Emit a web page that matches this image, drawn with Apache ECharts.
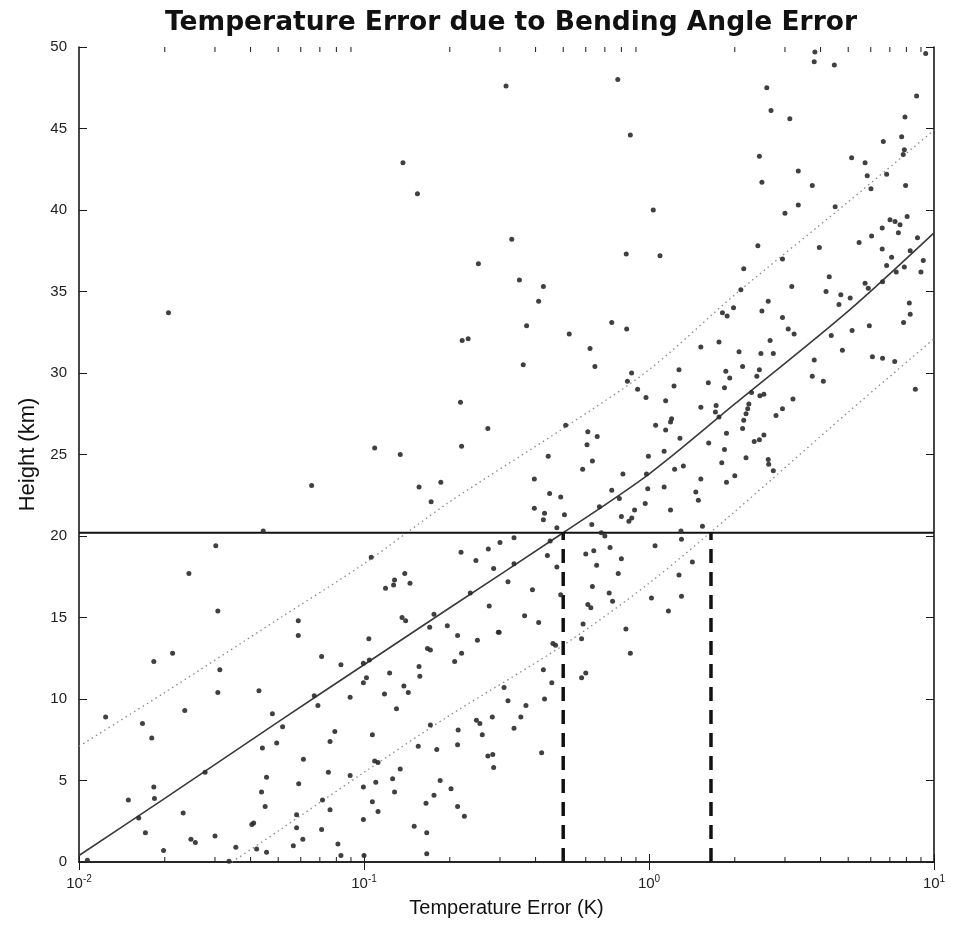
<!DOCTYPE html>
<html>
<head>
<meta charset="utf-8">
<script src="https://cdn.jsdelivr.net/npm/echarts@6/dist/echarts.min.js"></script>
<style>html,body{margin:0;padding:0;background:#fff}#chart{width:955px;height:939px}</style>
</head>
<body>
<div id="chart"></div>
<script>
// ---- data ----
const titleText = 'Temperature Error due to Bending Angle Error';
const xAxisName = 'Temperature Error (K)';
const yAxisName = 'Height (km)';
const xMin = 0.01, xMax = 10;
const yMin = 0, yMax = 50, yStep = 5;

const pointTempError = [
0.0206,0.315,0.777,0.86,0.137,0.154,0.330,0.832,0.252,0.351,0.426,0.410,0.74,
3.82,3.80,4.47,9.35,2.59,2.68,3.12,8.69,7.91,6.64,7.7,7.87,7.8,5.14,5.73,6.82,5.83,6.01,7.95,2.44,3.34,2.49,3.74,1.035,1.093,3.0,3.34,4.5,7.01,7.3,7.6,6.58,8.05,7.5,6.04,8.75,5.46,3.96,6.58,2.41,2.94,2.15,7.1,9.17,6.82,7.37,7.87,9.0,8.25,4.29,5.73,5.88,6.6,3.17,2.1,4.18,4.71,5.08,4.64,2.62,1.98,1.81,1.88,2.49,2.94,8.19,8.25,
7.82,5.93,5.16,4.36,3.08,3.23,2.66,2.73,2.47,2.07,1.76,1.52,4.77,6.08,6.6,7.28,8.6,3.8,3.74,4.09,2.13,2.44,2.39,1.86,1.92,1.615,1.84,1.274,1.224,0.976,1.144,2.29,2.45,2.53,3.2,1.52,1.72,1.71,1.76,2.24,2.22,2.19,2.15,2.94,2.79,1.2,1.19,1.055,1.144,2.13,1.87,2.53,2.44,2.34,1.284,1.62,1.84,0.995,1.13,2.19,1.8,2.62,2.63,2.73,1.23,1.32,0.98,2.0,1.52,1.87,0.99,1.13,1.46,1.49,0.97,1.19,1.54,1.295,1.3,1.05,1.42,1.274,
0.372,0.525,0.835,0.221,0.232,0.621,0.362,0.646,0.869,0.84,0.912,0.218,0.272,0.51,0.61,0.658,0.606,0.109,0.134,0.22,0.443,0.633,0.585,0.396,0.81,0.156,0.186,0.172,0.448,0.49,0.74,0.787,0.67,0.396,0.43,0.426,0.505,0.8,0.89,0.87,0.85,0.475,0.63,0.68,0.7,0.106,0.219,0.273,0.3,0.336,0.247,0.285,0.336,0.44,0.45,0.60,0.64,0.73,0.8,0.655,0.78,0.475,0.139,0.128,0.127,0.145,0.119,0.32,0.633,
0.0655,0.0443,0.0302,0.0243,
0.0307,0.0588,0.0588,0.0213,0.0183,0.0312,0.071,0.083,0.0995,0.0995,0.0307,0.0428,0.0669,0.0689,0.0894,0.0124,0.0235,0.0167,0.018,0.0477,0.0518,0.044,0.0494,0.079,0.076,0.0613,0.075,0.0894,0.0995,0.0995,0.0455,0.0437,0.045,0.059,0.0715,0.076,0.058,0.058,0.071,0.061,0.0565,0.081,0.083,0.0183,0.0184,0.0149,0.0162,0.0171,0.0198,0.0107,0.0277,0.0232,0.0247,0.0256,0.030,0.0336,0.0355,0.0404,0.041,0.042,0.0455,
0.39,0.49,0.236,0.725,0.745,0.61,0.625,0.275,0.366,0.41,0.587,0.83,0.136,0.14,0.176,0.17,0.196,0.104,0.213,0.25,0.296,0.298,0.46,0.47,0.58,0.86,0.167,0.171,0.1044,0.208,0.22,0.156,0.157,0.123,0.102,0.426,0.456,0.58,0.6,0.138,0.143,0.118,0.31,0.32,0.43,0.37,0.13,0.355,0.282,0.248,0.255,0.171,0.336,0.214,0.26,0.107,0.213,0.155,0.18,0.42,0.272,0.283,0.285,0.109,0.112,0.134,0.126,0.11,0.185,0.202,0.128,0.176,0.107,0.112,0.165,0.213,0.225,0.15,0.166,0.166,0.1,
1.02,1.17,1.3
];
const pointHeight = [
33.7,47.6,48.0,44.6,42.9,41.0,38.2,37.3,36.7,35.7,35.3,34.4,33.1,
49.7,49.1,48.9,49.6,47.5,46.1,45.6,47.0,45.7,44.2,44.5,43.7,43.4,43.2,42.9,42.2,42.1,41.3,41.5,43.3,42.4,41.7,41.5,40.0,37.2,39.8,40.3,40.2,39.4,39.3,39.1,38.9,39.6,38.6,38.4,38.3,38.0,37.7,37.6,37.8,37.0,36.4,37.1,36.9,36.6,36.2,36.5,36.2,37.5,35.9,35.5,35.2,35.6,35.3,35.1,35.0,34.8,34.6,34.2,34.4,34.0,33.7,33.5,33.8,33.4,34.3,33.6,
33.1,32.9,32.6,32.3,32.7,32.4,32.0,31.2,31.2,31.3,31.9,31.6,31.4,31.0,30.9,30.7,29.0,30.8,29.8,29.5,30.4,30.2,29.8,30.1,29.7,29.4,29.1,30.2,29.2,28.5,28.3,28.8,28.6,28.7,28.4,27.9,28.0,27.6,27.3,28.1,27.8,27.5,27.1,27.8,27.4,27.2,27.0,26.8,26.5,26.6,26.3,26.2,25.9,25.8,26.0,25.7,25.3,24.9,25.2,24.8,24.5,24.7,24.4,24.0,24.1,24.3,23.8,23.7,23.5,23.3,22.9,23.0,22.7,22.2,22.0,21.6,20.6,20.3,19.8,19.4,18.4,17.6,
32.9,32.4,32.7,32.0,32.1,31.5,30.5,30.4,30.0,29.5,29.0,28.2,26.6,26.8,26.4,26.1,25.6,25.4,25.0,25.5,24.9,24.6,24.1,23.5,23.8,23.0,23.3,22.1,22.6,22.4,22.8,22.3,21.8,21.7,21.4,21.0,21.3,21.2,21.6,21.1,20.9,20.5,20.7,20.2,20.0,18.7,19.0,19.2,19.6,19.9,18.5,18.0,18.3,18.8,19.7,18.9,19.1,19.3,18.6,18.2,17.7,18.1,17.7,17.3,17.0,17.1,16.8,17.2,16.9,
23.1,20.3,19.4,17.7,
15.4,14.8,13.9,12.8,12.3,11.8,12.6,12.1,12.2,11.0,10.4,10.5,10.2,9.6,10.1,8.9,9.3,8.5,7.6,9.1,8.3,7.0,7.3,8.0,7.4,6.3,5.5,5.3,4.6,2.6,5.2,4.3,3.4,4.8,3.8,3.2,2.9,2.1,2.0,1.4,1.0,1.1,0.4,4.6,3.9,3.8,2.7,1.8,0.7,0.1,5.5,3.0,1.4,1.2,1.6,0.05,0.9,2.3,2.4,0.8,0.6,
16.7,16.4,16.5,16.5,16.0,15.8,15.6,15.7,15.1,14.7,14.6,14.3,15.0,14.8,15.2,14.4,14.5,13.7,13.9,13.6,14.1,14.1,13.4,13.3,13.7,12.8,13.1,13.0,12.4,12.3,12.8,12.0,11.4,11.6,11.3,11.8,11.0,11.3,11.6,10.8,10.4,10.3,10.7,9.9,10.0,9.6,9.4,8.9,8.9,8.7,8.5,8.4,8.2,8.1,7.8,7.8,7.2,7.1,6.9,6.7,6.5,6.6,5.8,6.2,6.1,5.7,5.1,4.9,5.0,4.5,4.3,4.1,3.7,3.1,3.6,3.4,2.8,2.2,1.8,0.5,0.4,
16.2,15.4,16.3
];

// fitted curve (solid) and bounds (dotted)
const curveX     = [0.01, 0.02, 0.05, 0.1, 0.2, 0.5, 1, 2, 5, 10];
const fitHeight  = [0.4, 3.9, 8.6, 12.1, 15.6, 20.2, 23.8, 28.1, 33.8, 38.6];
const upperHeight= [7.1, 10.4, 14.9, 18.3, 22.1, 26.6, 30.2, 34.8, 40.5, 44.9];
const lowerX     = [0.0344, 0.05, 0.1, 0.2, 0.5, 1, 2, 5, 10];
const lowerHeight= [0, 1.9, 5.5, 9.0, 13.3, 17.1, 21.5, 27.6, 32.1];

// reference height and the two error values where it crosses the fit and lower bound
const refHeight = 20.2;
const refErrors = [0.5, 1.65];

const minorTickValues = [0.02,0.03,0.04,0.05,0.06,0.07,0.08,0.09,0.2,0.3,0.4,0.5,0.6,0.7,0.8,0.9,2,3,4,5,6,7,8,9];

// ---- chart ----
const FONT = '"Liberation Sans", Arial, Helvetica, sans-serif';
const TITLE_FONT = '"DejaVu Sans", "Liberation Sans", Arial, sans-serif';
const chart = echarts.init(document.getElementById('chart'), null, {renderer: 'canvas'});

const zip = (xs, ys) => xs.map((x, i) => [x, ys[i]]);

const axisLineStyle = {show: true, lineStyle: {color: '#1a1a1a', width: 1.6}};

const series = [
  {
    type: 'line', data: zip(curveX, upperHeight), showSymbol: false, smooth: 0.3,
    lineStyle: {color: '#8a8a8a', width: 1.3, type: [1.5, 3.5]}, z: 2, silent: true
  },
  {
    type: 'line', data: zip(lowerX, lowerHeight), showSymbol: false, smooth: 0.3,
    lineStyle: {color: '#8a8a8a', width: 1.3, type: [1.5, 3.5]}, z: 2, silent: true
  },
  {
    type: 'line', data: zip(curveX, fitHeight), showSymbol: false, smooth: 0.3,
    lineStyle: {color: '#3a3a3a', width: 1.6}, z: 3, silent: true
  },
  {
    type: 'line', data: [[xMin, refHeight], [xMax, refHeight]], showSymbol: false,
    lineStyle: {color: '#111', width: 2.2}, z: 4, silent: true
  }
];
refErrors.forEach(v => {
  series.push({
    type: 'line', data: [[v, yMin], [v, refHeight]], showSymbol: false,
    lineStyle: {color: '#111', width: 3.5, type: [14, 9], dashOffset: 0}, z: 4, silent: true
  });
});
series.push({
  type: 'scatter', data: zip(pointTempError, pointHeight),
  symbol: 'circle', symbolSize: 5,
  itemStyle: {color: '#2b2b2b', opacity: 0.9}, z: 5, silent: true
});
series.push({
  type: 'custom', data: minorTickValues.map(v => [v, 0]), clip: false, z: 6, silent: true,
  renderItem: function (params, api) {
    const v = api.value(0);
    const b = api.coord([v, yMin]);
    const t = api.coord([v, yMax]);
    const st = {stroke: '#1a1a1a', lineWidth: 1};
    return {type: 'group', children: [
      {type: 'line', shape: {x1: b[0], y1: b[1], x2: b[0], y2: b[1] - 5}, style: st},
      {type: 'line', shape: {x1: t[0], y1: t[1], x2: t[0], y2: t[1] + 5}, style: st}
    ]};
  }
});

const option = {
  backgroundColor: '#ffffff',
  animation: false,
  textStyle: {fontFamily: FONT},
  title: {
    text: titleText, left: 506, top: 5, textAlign: 'center',
    textStyle: {fontFamily: TITLE_FONT, fontWeight: 'bold', fontSize: 26.5, color: '#111'}
  },
  grid: {left: 79, right: 21, top: 47, bottom: 77, show: false},
  xAxis: [
    {
      type: 'log', logBase: 10, min: xMin, max: xMax, position: 'bottom',
      name: xAxisName, nameLocation: 'middle', nameGap: 34,
      nameTextStyle: {fontFamily: FONT, fontSize: 20, color: '#111'},
      axisLine: axisLineStyle,
      axisTick: {show: true, inside: true, length: 8, lineStyle: {color: '#1a1a1a', width: 1}},
      splitLine: {show: false},
      axisLabel: {
        margin: 12, color: '#222', fontFamily: FONT,
        formatter: function (v) {
          const e = Math.round(Math.log10(v));
          return '{b|10}{e|' + e + '}';
        },
        rich: {
          b: {fontSize: 15, fontFamily: FONT, color: '#222', lineHeight: 20},
          e: {fontSize: 10, fontFamily: FONT, color: '#222', padding: [0, 0, 9, 0], lineHeight: 20}
        }
      }
    },
    {
      type: 'log', logBase: 10, min: xMin, max: xMax, position: 'top',
      axisLine: axisLineStyle,
      axisTick: {show: true, inside: true, length: 8, lineStyle: {color: '#1a1a1a', width: 1}},
      axisLabel: {show: false}, splitLine: {show: false}
    }
  ],
  yAxis: [
    {
      type: 'value', min: yMin, max: yMax, interval: yStep, position: 'left',
      name: yAxisName, nameLocation: 'middle', nameGap: 38,
      nameTextStyle: {fontFamily: FONT, fontSize: 22, color: '#111'},
      axisLine: axisLineStyle,
      axisTick: {show: true, inside: true, length: 8, lineStyle: {color: '#1a1a1a', width: 1}},
      axisLabel: {margin: 12, fontSize: 15, color: '#222', fontFamily: FONT},
      splitLine: {show: false}
    },
    {
      type: 'value', min: yMin, max: yMax, interval: yStep, position: 'right',
      axisLine: axisLineStyle,
      axisTick: {show: true, inside: true, length: 8, lineStyle: {color: '#1a1a1a', width: 1}},
      axisLabel: {show: false}, splitLine: {show: false}
    }
  ],
  series: series
};
chart.setOption(option);
</script>
</body>
</html>
